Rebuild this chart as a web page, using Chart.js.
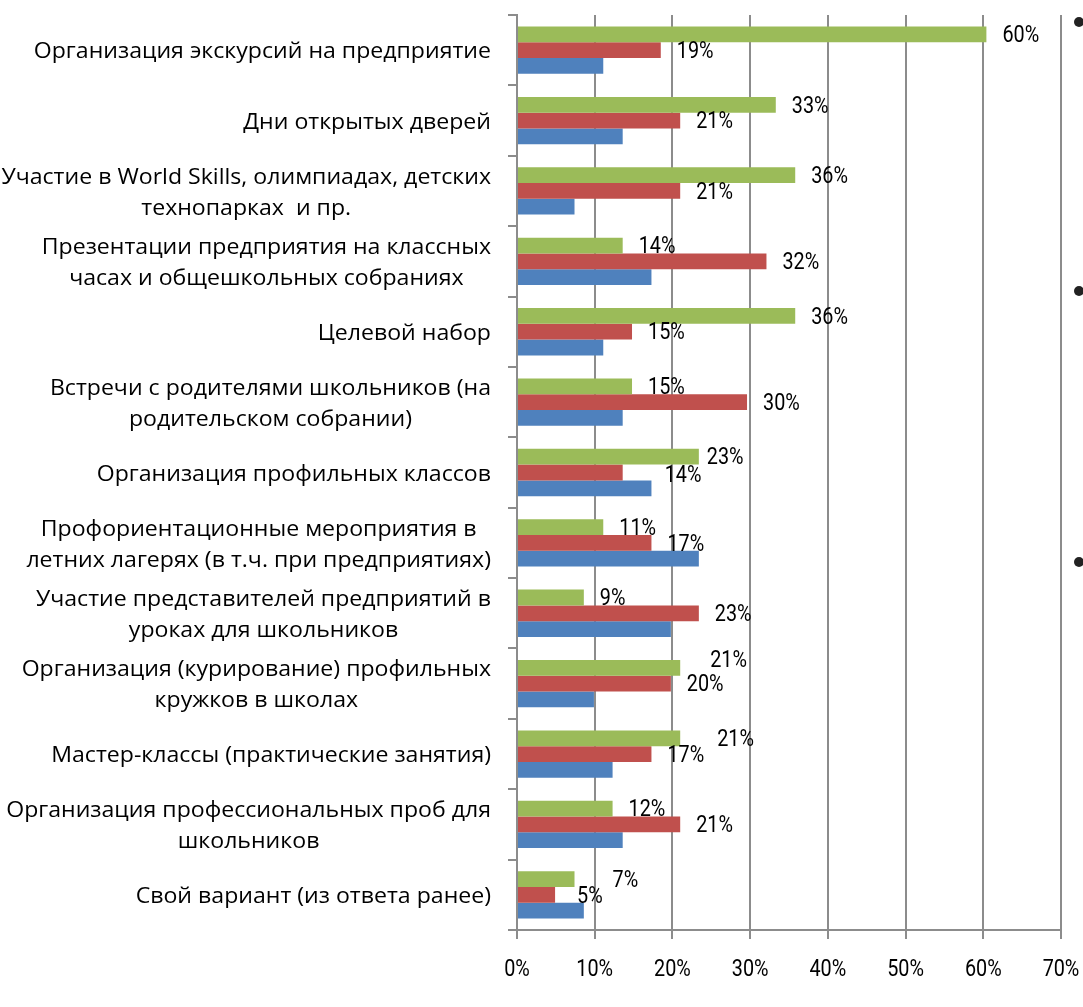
<!DOCTYPE html>
<html>
<head>
<meta charset="utf-8">
<script src="https://cdn.jsdelivr.net/npm/chart.js@4/dist/chart.umd.min.js"></script>
<style>
  html, body { margin: 0; padding: 0; background: #fff; }
  #wrap { width: 1083px; height: 1007px; }
</style>
</head>
<body>
<div id="wrap"><canvas id="barChart"></canvas></div>
<script>
// categories (multi-line ones are arrays)
const categories = [
    'Организация экскурсий на предприятие',
    'Дни открытых дверей',
    ['Участие в World Skills, олимпиадах, детских', 'технопарках  и пр.'],
    ['Презентации предприятия на классных', 'часах и общешкольных собраниях'],
    'Целевой набор',
    ['Встречи с родителями школьников (на', 'родительском собрании)'],
    'Организация профильных классов',
    ['Профориентационные мероприятия в', 'летних лагерях (в т.ч. при предприятиях)'],
    ['Участие представителей предприятий в', 'уроках для школьников'],
    ['Организация (курирование) профильных', 'кружков в школах'],
    'Мастер-классы (практические занятия)',
    ['Организация профессиональных проб для', 'школьников'],
    'Свой вариант (из ответа ранее)'
];

// values in %
const greenValues = [60.4, 33.3, 35.8, 13.6, 35.8, 14.8, 23.4, 11.1, 8.6, 21.0, 21.0, 12.3, 7.4];
const redValues   = [18.5, 21.0, 21.0, 32.1, 14.8, 29.6, 13.6, 17.3, 23.4, 19.8, 17.3, 21.0, 4.9];
const blueValues  = [11.1, 13.6, 7.4, 17.3, 11.1, 13.6, 17.3, 23.4, 19.8, 9.9, 12.3, 13.6, 8.6];

const xTicks = [0, 10, 20, 30, 40, 50, 60, 70];

const narrowFont = "Roboto, sans-serif";
const labelFont = "'Open Sans', sans-serif";
const gridColor = '#8c8c8c';

// small hand nudges for value labels that were moved in the original
const labelNudge = {
    0: { 6: [-8, 0], 9: [14, -9], 10: [21, 0], 12: [22, 0] },
    1: { 6: [26, 2], 12: [6, 0] }
};

// draw text stretched/squeezed horizontally
function scaledText(ctx, txt, x, y, align, sx) {
    ctx.save();
    ctx.translate(x, y);
    ctx.scale(sx, 1);
    ctx.textAlign = align;
    ctx.fillText(txt, 0, 0);
    ctx.restore();
}

const valueLabels = {
    id: 'valueLabels',
    afterDatasetsDraw(chart) {
        const ctx = chart.ctx;
        ctx.save();
        ctx.font = '23px ' + narrowFont;
        ctx.fillStyle = '#000';
        ctx.textBaseline = 'middle';
        [0, 1].forEach(di => {
            const meta = chart.getDatasetMeta(di);
            meta.data.forEach((bar, i) => {
                const v = chart.data.datasets[di].data[i];
                const n = (labelNudge[di] && labelNudge[di][i]) || [0, 0];
                scaledText(ctx, Math.round(v) + '%', bar.x + 16 + n[0], bar.y + 2 + n[1], 'left', 0.86);
            });
        });
        ctx.restore();
    }
};

const axisLabels = {
    id: 'axisLabels',
    afterDraw(chart) {
        const ctx = chart.ctx;
        const yScale = chart.scales.y;
        const xScale = chart.scales.x;
        ctx.save();
        // x tick labels
        ctx.font = '23px ' + narrowFont;
        ctx.fillStyle = '#000';
        ctx.textBaseline = 'middle';
        xTicks.forEach(v => {
            scaledText(ctx, v + '%', xScale.getPixelForValue(v), 970, 'center', 0.86);
        });
        // category labels: each block right-aligned, lines centred inside it
        const right = chart.chartArea.left - 26;
        const lineH = 31;
        const sx = 1.05;
        ctx.font = '22px ' + labelFont;
        chart.data.labels.forEach((lbl, i) => {
            const lines = Array.isArray(lbl) ? lbl : [lbl];
            const w = sx * Math.max(...lines.map(l => ctx.measureText(l).width));
            const cy = yScale.getPixelForValue(i) + 2;
            lines.forEach((l, k) => {
                scaledText(ctx, l, right - w / 2, cy + (k - (lines.length - 1) / 2) * lineH, 'center', sx);
            });
        });
        // slide bullets at the right edge
        ctx.fillStyle = '#222';
        [22, 291, 562].forEach(y => {
            ctx.beginPath();
            ctx.arc(1079, y, 5, 0, Math.PI * 2);
            ctx.fill();
        });
        ctx.restore();
    }
};

const ctx = document.getElementById('barChart').getContext('2d');
const barChart = new Chart(ctx, {
    type: 'bar',
    data: {
        labels: categories,
        datasets: [{
            label: 'green',
            data: greenValues,
            backgroundColor: '#9BBB59'
        }, {
            label: 'red',
            data: redValues,
            backgroundColor: '#C0504D'
        }, {
            label: 'blue',
            data: blueValues,
            backgroundColor: '#4F81BD'
        }]
    },
    options: {
        indexAxis: 'y',
        responsive: true,
        maintainAspectRatio: false,
        animation: false,
        categoryPercentage: 0.672,
        barPercentage: 1,
        layout: { padding: { top: 15, right: 22, bottom: 0, left: 0 } },
        plugins: {
            legend: { display: false },
            tooltip: { enabled: false }
        },
        scales: {
            x: {
                min: 0,
                max: 70,
                afterBuildTicks(scale) {
                    scale.ticks = xTicks.map(v => ({ value: v }));
                },
                afterFit(scale) {
                    scale.height = 77;
                    scale.paddingLeft = 0;
                    scale.paddingRight = 0;
                },
                grid: { color: gridColor, lineWidth: 2, tickLength: 9 },
                border: { color: gridColor, width: 2 },
                ticks: {
                    color: 'rgba(0,0,0,0)',
                    font: { size: 10 },
                    callback: v => v + '%'
                }
            },
            y: {
                afterFit(scale) { scale.width = 517; },
                grid: { offset: true, drawOnChartArea: false, color: gridColor, lineWidth: 2, tickLength: 9 },
                border: { color: gridColor, width: 2 },
                ticks: { color: 'rgba(0,0,0,0)', font: { size: 10 } }
            }
        }
    },
    plugins: [valueLabels, axisLabels]
});
</script>
</body>
</html>
